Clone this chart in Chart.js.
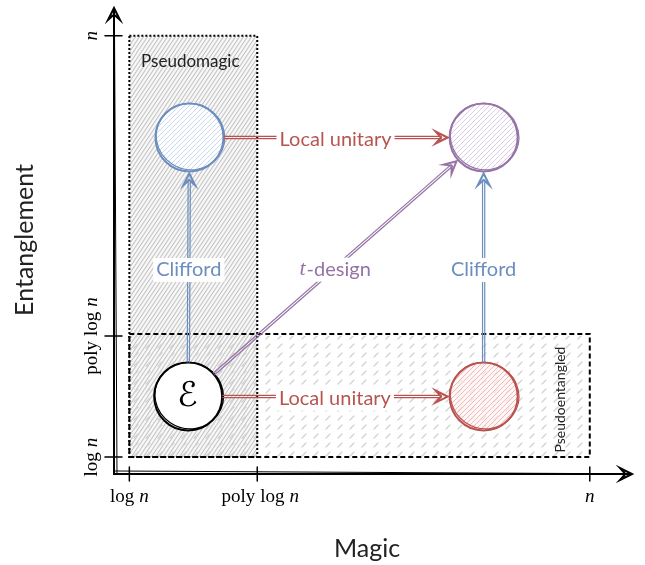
<!DOCTYPE html>
<html>
<head>
<meta charset="utf-8">
<script src="https://cdn.jsdelivr.net/npm/chart.js@4.4.0/dist/chart.umd.min.js"></script>
<style>
  html, body { margin: 0; padding: 0; background: #fff; }
</style>
</head>
<body>
<canvas id="myChart" width="645" height="565"></canvas>
<script>
// axis units: log n = 0, poly log n = 1
const xTickLabels = ["log n", "poly log n", "n"];
const xTickValues = [0, 1, 3.6];
const yTickLabels = ["log n", "poly log n", "n"];
const yTickValues = [0, 1, 3.48];

// the four states (circles)
const stateNames = ["stabilizer", "pseudomagic", "pseudoentangled", "haar"];
const stateX = [0.46, 0.47, 2.77, 2.77];
const stateY = [0.5, 2.64, 0.5, 2.64];

// arrows between states
const arrowFrom = [0, 2, 1, 0, 0];
const arrowTo = [1, 3, 3, 2, 3];
const arrowLabels = ["Clifford", "Clifford", "Local unitary", "Local unitary", "t-design"];

// shaded regions
const boxNames = ["Pseudomagic", "Pseudoentangled"];
const boxX0 = [0, 0];
const boxX1 = [1, 3.6];
const boxY0 = [0, 0];
const boxY1 = [3.48, 1];

const BLUE = "#6c8ebf", RED = "#b85450", PURPLE = "#9673a6";
const canvas = document.getElementById("myChart");
const ctx0 = canvas.getContext("2d");

function hatch(stroke, bg, w, h, lw) {
  const c = document.createElement("canvas");
  c.width = w; c.height = h;
  const g = c.getContext("2d");
  if (bg) { g.fillStyle = bg; g.fillRect(0, 0, w, h); }
  g.strokeStyle = stroke; g.lineWidth = lw;
  const k = h / w;
  g.beginPath();
  g.moveTo(0, h); g.lineTo(w, 0);
  g.moveTo(-2, 2 * k); g.lineTo(2, -2 * k);
  g.moveTo(w - 2, h + 2 * k); g.lineTo(w + 2, h - 2 * k);
  g.stroke();
  return ctx0.createPattern(c, "repeat");
}

function dashHatch(stroke) {
  const c = document.createElement("canvas");
  c.width = 12; c.height = 9;
  const g = c.getContext("2d");
  g.strokeStyle = stroke; g.lineWidth = 1.3; g.lineCap = "round";
  g.beginPath();
  g.moveTo(2, 6); g.lineTo(6, 2);
  g.stroke();
  return ctx0.createPattern(c, "repeat");
}

const grayHatch = hatch("#c6c6c6", "#f8f8f8", 4, 6, 1.1);
const grayDash = dashHatch("#d2d2d2");
const stateFill = [
  "#ffffff",
  hatch("#c9d9f0", "#ffffff", 5, 5, 1),
  hatch("#f2b9b7", "rgba(255,240,240,0.6)", 5, 5, 1),
  hatch("#dccbe4", "#ffffff", 5, 5, 1)
];
const stateStroke = ["#000000", BLUE, RED, PURPLE];
const arrowColors = [BLUE, BLUE, RED, RED, PURPLE];

function stealth(ctx, x, y, ang, color) {
  const L = 12, W = 6;
  const c = Math.cos(ang), s = Math.sin(ang);
  const bx = x - c * L, by = y - s * L;
  const ix = x - c * L * 0.55, iy = y - s * L * 0.55;
  ctx.strokeStyle = color; ctx.lineWidth = 2; ctx.lineJoin = "miter";
  ctx.beginPath();
  ctx.moveTo(x, y);
  ctx.lineTo(bx - s * W, by + c * W);
  ctx.lineTo(ix, iy);
  ctx.lineTo(bx + s * W, by - c * W);
  ctx.closePath();
  ctx.stroke();
}

function mathLabel(ctx, label, x, y, rotate) {
  const parts = label.split(" ");
  const gap = 5;
  const fonts = parts.map((p, i) => (i === parts.length - 1 && p === "n" ? "italic 19px 'Liberation Serif'" : "19px 'Liberation Serif'"));
  const widths = parts.map((p, i) => { ctx.font = fonts[i]; return ctx.measureText(p).width; });
  const total = widths.reduce((a, b) => a + b, 0) + gap * (parts.length - 1);
  ctx.save();
  ctx.translate(x, y);
  if (rotate) ctx.rotate(-Math.PI / 2);
  ctx.fillStyle = "#000"; ctx.textBaseline = "middle"; ctx.textAlign = "left";
  let cx = -total / 2;
  parts.forEach((p, i) => { ctx.font = fonts[i]; ctx.fillText(p, cx, 0); cx += widths[i] + gap; });
  ctx.restore();
}

const sketch = {
  id: "sketch",
  beforeDatasetsDraw(chart) {
    const { ctx, scales: { x, y }, chartArea: a } = chart;
    ctx.save();
    // regions
    boxNames.forEach((name, i) => {
      const l = x.getPixelForValue(boxX0[i]), r = x.getPixelForValue(boxX1[i]);
      const t = y.getPixelForValue(boxY1[i]), b = y.getPixelForValue(boxY0[i]);
      ctx.fillStyle = i === 0 ? grayHatch : grayDash;
      ctx.fillRect(l, t, r - l, b - t);
    });
    boxNames.forEach((name, i) => {
      const l = x.getPixelForValue(boxX0[i]), r = x.getPixelForValue(boxX1[i]);
      const t = y.getPixelForValue(boxY1[i]), b = y.getPixelForValue(boxY0[i]);
      ctx.strokeStyle = "#000";
      ctx.lineWidth = 2;
      ctx.setLineDash(i === 0 ? [2, 2] : [5, 3]);
      ctx.strokeRect(l, i === 0 ? t : t - 2, r - l, b - t + (i === 0 ? 0 : 2));
      ctx.setLineDash([]);
      ctx.fillStyle = "#222";
      if (i === 0) {
        ctx.font = "17px Lato";
        ctx.textAlign = "center"; ctx.textBaseline = "middle";
        ctx.fillText(name, (l + r) / 2 - 3, t + 26);
      } else {
        ctx.save();
        ctx.translate(r - 29, (t + b) / 2 + 3);
        ctx.rotate(-Math.PI / 2);
        ctx.font = "14px Lato";
        ctx.textAlign = "center"; ctx.textBaseline = "middle";
        ctx.fillText(name, 0, 0);
        ctx.restore();
      }
    });
    // axes
    ctx.strokeStyle = "#000"; ctx.lineCap = "round";
    ctx.lineWidth = 2;
    ctx.beginPath(); ctx.moveTo(a.left, a.bottom); ctx.lineTo(a.left, a.top + 1); ctx.stroke();
    ctx.lineWidth = 1;
    ctx.beginPath(); ctx.moveTo(a.left + 3, a.bottom); ctx.lineTo(a.left + 0.5, a.top + 20); ctx.stroke();
    ctx.lineWidth = 2;
    ctx.beginPath(); ctx.moveTo(a.left, a.bottom); ctx.lineTo(a.right - 1, a.bottom); ctx.stroke();
    ctx.lineWidth = 1;
    ctx.beginPath(); ctx.moveTo(a.left, a.bottom - 3); ctx.lineTo(a.right - 60, a.bottom - 0.5); ctx.stroke();
    stealth(ctx, a.left, a.top, -Math.PI / 2, "#000");
    stealth(ctx, a.right, a.bottom, 0, "#000");
    // ticks
    ctx.lineWidth = 1.5;
    xTickValues.forEach((v, i) => {
      const px = x.getPixelForValue(v);
      ctx.beginPath(); ctx.moveTo(px, a.bottom - 7); ctx.lineTo(px, a.bottom + 7); ctx.stroke();
      mathLabel(ctx, xTickLabels[i], px + (i === 1 ? 3 : 0), a.bottom + 23, false);
    });
    yTickValues.forEach((v, i) => {
      const py = y.getPixelForValue(v);
      ctx.beginPath(); ctx.moveTo(a.left - 9, py); ctx.lineTo(a.left + 8, py); ctx.stroke();
      mathLabel(ctx, yTickLabels[i], a.left - 22, py, true);
    });
    // axis titles
    ctx.fillStyle = "#222"; ctx.font = "25px Lato";
    ctx.textAlign = "center"; ctx.textBaseline = "middle";
    ctx.fillText("Magic", 367, 549);
    ctx.save();
    ctx.translate(25, 240);
    ctx.rotate(-Math.PI / 2);
    ctx.fillText("Entanglement", 0, 0);
    ctx.restore();
    ctx.restore();
  },
  afterDatasetsDraw(chart) {
    const { ctx, scales: { x, y } } = chart;
    const R = 35;
    ctx.save();
    // second hand-drawn outline
    stateNames.forEach((n, i) => {
      const cx = x.getPixelForValue(stateX[i]), cy = y.getPixelForValue(stateY[i]);
      ctx.strokeStyle = stateStroke[i]; ctx.lineWidth = 1.2;
      ctx.beginPath();
      ctx.ellipse(cx + 1, cy - 1, R - 0.5, R - 2, 0.4, 0.2, Math.PI * 2.1);
      ctx.stroke();
    });
    // script E
    ctx.fillStyle = "#000";
    ctx.font = "italic 34px 'DejaVu Sans'";
    ctx.textAlign = "center"; ctx.textBaseline = "middle";
    ctx.fillText("\u2130", x.getPixelForValue(stateX[0]) - 1, y.getPixelForValue(stateY[0]) + 1);
    // arrows
    arrowFrom.forEach((f, k) => {
      const t = arrowTo[k];
      const x1 = x.getPixelForValue(stateX[f]), y1 = y.getPixelForValue(stateY[f]);
      const x2 = x.getPixelForValue(stateX[t]), y2 = y.getPixelForValue(stateY[t]);
      const ang = Math.atan2(y2 - y1, x2 - x1);
      const c = Math.cos(ang), s = Math.sin(ang);
      const sx = x1 + c * (R - 1), sy = y1 + s * (R - 1);
      const ex = x2 - c * (R + 1), ey = y2 - s * (R + 1);
      const col = arrowColors[k];
      ctx.strokeStyle = col; ctx.lineWidth = 1.2;
      [-1.1, 1.1].forEach((o) => {
        ctx.beginPath();
        ctx.moveTo(sx - s * o, sy + c * o);
        ctx.lineTo(ex - c * 6 - s * o, ey - s * 6 + c * o);
        ctx.stroke();
      });
      stealth(ctx, ex, ey, ang, col);
      // label
      const mx = (sx + ex) / 2, my = (sy + ey) / 2 + 2;
      const lab = arrowLabels[k];
      ctx.textBaseline = "middle";
      if (lab === "t-design") {
        ctx.font = "italic 22px 'Liberation Serif'";
        const w1 = ctx.measureText("t").width;
        ctx.font = "20px Lato";
        const w2 = ctx.measureText("-design").width;
        const w = w1 + w2 + 1;
        ctx.fillStyle = "#fff";
        ctx.fillRect(mx - w / 2 - 3, my - 12, w + 6, 24);
        ctx.fillStyle = col; ctx.textAlign = "left";
        ctx.font = "italic 22px 'Liberation Serif'";
        ctx.fillText("t", mx - w / 2, my);
        ctx.font = "20px Lato";
        ctx.fillText("-design", mx - w / 2 + w1 + 1, my);
      } else {
        ctx.font = "20px Lato";
        const w = ctx.measureText(lab).width;
        ctx.fillStyle = "#fff";
        ctx.fillRect(mx - w / 2 - 3, my - 12, w + 6, 24);
        ctx.fillStyle = col; ctx.textAlign = "center";
        ctx.fillText(lab, mx, my);
      }
    });
    ctx.restore();
  }
};

const myChart = new Chart(canvas, {
  type: "scatter",
  data: {
    datasets: [{
      label: "states",
      data: stateX.map((v, i) => ({ x: v, y: stateY[i] })),
      pointRadius: 34,
      pointHoverRadius: 34,
      pointBorderWidth: 2,
      pointBackgroundColor: stateFill,
      pointBorderColor: stateStroke,
      clip: false
    }]
  },
  options: {
    responsive: false,
    animation: false,
    events: [],
    layout: { autoPadding: false, padding: { left: 114, right: 13, top: 8, bottom: 91 } },
    plugins: { legend: { display: false }, tooltip: { enabled: false } },
    scales: {
      x: { type: "linear", display: false, min: -0.12, max: 3.93 },
      y: { type: "linear", display: false, min: -0.14, max: 3.71 }
    }
  },
  plugins: [sketch]
});
</script>
</body>
</html>
